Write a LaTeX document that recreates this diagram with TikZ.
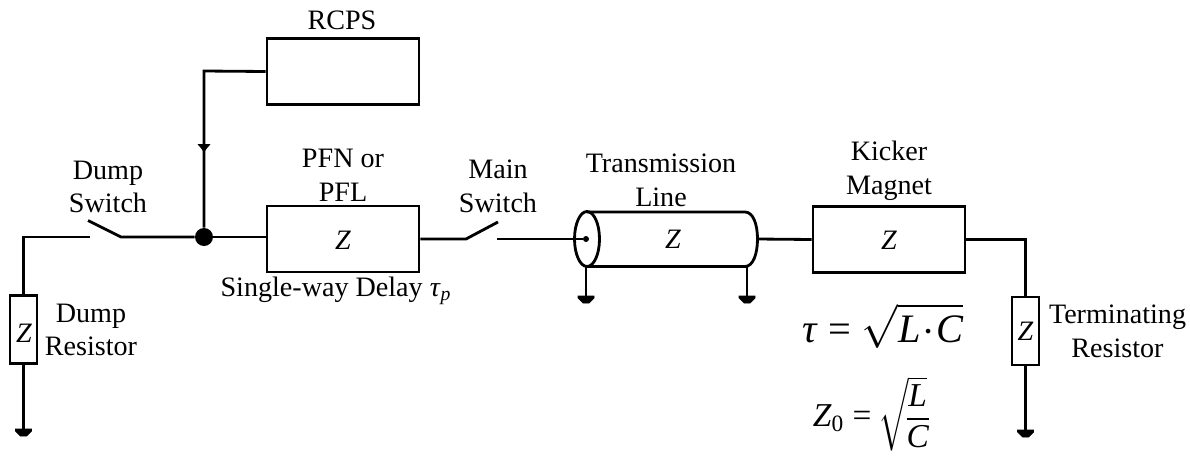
\documentclass[tikz,border=0pt]{standalone}
\usepackage{fontspec}
\setmainfont{Liberation Serif}
\usepackage{amsmath}
\usetikzlibrary{arrows.meta,positioning,shapes.geometric,calc}
\tikzset{
  wire/.style={line width=1.6pt},
  blockbox/.style={draw,line width=1.6pt,minimum width=3.04cm,minimum height=1.32cm},
  loadbox/.style={draw,line width=1.6pt,minimum width=0.54cm,minimum height=1.36cm,inner sep=0pt},
  lbl/.style={font=\fontsize{16pt}{19.2pt}\selectfont,align=center,inner sep=0pt},
  zlbl/.style={font=\fontsize{16pt}{19pt}\selectfont\itshape,inner sep=0pt},
  gndmark/.style={fill=black,draw=black,line width=0.4pt},
}
\newcommand{\gndat}[1]{\draw[gndmark] ($(#1)+(-8,0)$) -- ($(#1)+(8,0)$) -- ($(#1)+(8,2)$) -- ($(#1)+(3,7)$) -- ($(#1)+(-3,7)$) -- ($(#1)+(-8,2)$) -- cycle;}
\begin{document}
\begin{tikzpicture}[x=0.02cm,y=-0.02cm]
  \useasboundingbox (0,0) rectangle (1190,457);

  % Blocks
  \node[blockbox] (rcps) at (343,71.5) {};
  \node[blockbox] (pfn) at (343,239) {};
  \node[blockbox] (kicker) at (889,239.5) {};
  \node[loadbox] (dumpres) at (23.5,329.5) {};
  \node[loadbox] (termres) at (1025.5,331) {};

  % Labels
  \node[lbl] (rcpslbl) at (342,20) {RCPS};
  \node[lbl] (pfnlbl) at (343,175) {PFN or\\PFL};
  \node[lbl] (dumpsw) at (108,187) {Dump\\Switch};
  \node[lbl] (mainsw) at (498,186) {Main\\Switch};
  \node[lbl] (tllbl) at (661,180) {Transmission\\Line};
  \node[lbl] (kickerlbl) at (889,171) {Kicker\\Magnet};
  \node[lbl] (dumplbl) at (91,330) {Dump\\Resistor};
  \node[lbl] (termlbl) at (1117.5,331.5) {Terminating\\Resistor};
  \node[lbl] (delay) at (336,291) {Single-way Delay \textit{τ}\textsubscript{\textit{p}}};

  % Z markers
  \node[zlbl] (zpfn) at (343,240) {Z};
  \node[zlbl] (ztl) at (673,239) {Z};
  \node[zlbl] (zkicker) at (889,240) {Z};
  \node[zlbl] (zdump) at (24,333) {Z};
  \node[zlbl] (zterm) at (1025.5,331) {Z};

  % Formulas
  \node[inner sep=0pt,font=\fontsize{23pt}{28pt}\selectfont] (taueq) at (883,326)
    {\textit{τ} = $\sqrt{\textit{L}\kern1pt{\cdot}\kern1pt\textit{C}}$};
  \node[inner sep=0pt,font=\fontsize{19pt}{23pt}\selectfont] (zeq) at (870,414)
    {\nulldelimiterspace=0pt\textit{Z}\textsubscript{0} = \kern-1pt$\sqrt{\kern-1pt\dfrac{\textit{L}}{\textit{C}}\kern-1pt}$};

  % Cable
  \coordinate (cabtl) at (587,212);
  \coordinate (cabbl) at (587,266.5);
  \coordinate (cabtr) at (745,212);
  \coordinate (cabbr) at (745,266.5);
  \coordinate (cabcap) at (757.5,239);
  \draw[wire] (cabtl) -- (cabtr) .. controls (753,212) and (757.5,224) .. (cabcap)
    .. controls (757.5,254) and (753,266.5) .. (cabbr) -- (cabbl);
  \node[draw,line width=1.6pt,ellipse,minimum width=0.5cm,minimum height=1.1cm,inner sep=0pt] (cabend) at (587,239) {};
  \node[circle,fill=black,minimum size=0.12cm,inner sep=0pt] (cabdot) at (586,239) {};

  % Junction
  \node[circle,fill=black,minimum size=0.36cm,inner sep=0pt] (junc) at (204,237) {};

  % Dump branch
  \coordinate (dumpa) at (90,237);
  \coordinate (dumpb) at (121,237);
  \coordinate (dumpc) at (88,220.5);
  \draw[wire] (dumpres.north) |- (dumpa);
  \draw[wire] (dumpc) -- (dumpb) -- (junc);
  \draw[wire] (junc) -- (pfn.west |- junc);

  % RCPS feed
  \coordinate (rcpscnr) at (204,71);
  \coordinate (arrowtip) at (204,153);
  \draw[wire] (rcps.west) -- (rcpscnr) -- (junc);
  \draw[wire,-{Latex[length=5pt,width=8pt]}] (rcpscnr) -- (arrowtip);

  % Main switch
  \coordinate (maina) at (466,239);
  \coordinate (mainb) at (498,222);
  \coordinate (mainc) at (497,239);
  \draw[wire] (pfn.east |- maina) -- (maina) -- (mainb);
  \draw[wire] (mainc) -- (cabdot);

  % Line to load
  \draw[wire] (cabcap) -- (kicker.west);
  \draw[wire] (kicker.east) -| (termres.north);

  % Grounds
  \coordinate (gnda) at (23.5,429);
  \coordinate (gndb) at (586,296);
  \coordinate (gndc) at (747,296);
  \coordinate (gndd) at (1025.5,430);
  \coordinate (cabgnd) at (747,266.5);
  \coordinate (cabgndl) at (586,266.5);
  \draw[wire] (dumpres.south) -- (gnda);
  \draw[wire] (cabgndl) -- (gndb);
  \draw[wire] (cabgnd) -- (gndc);
  \draw[wire] (termres.south) -- (gndd);
  \gndat{gnda}
  \gndat{gndb}
  \gndat{gndc}
  \gndat{gndd}
\end{tikzpicture}
\end{document}
